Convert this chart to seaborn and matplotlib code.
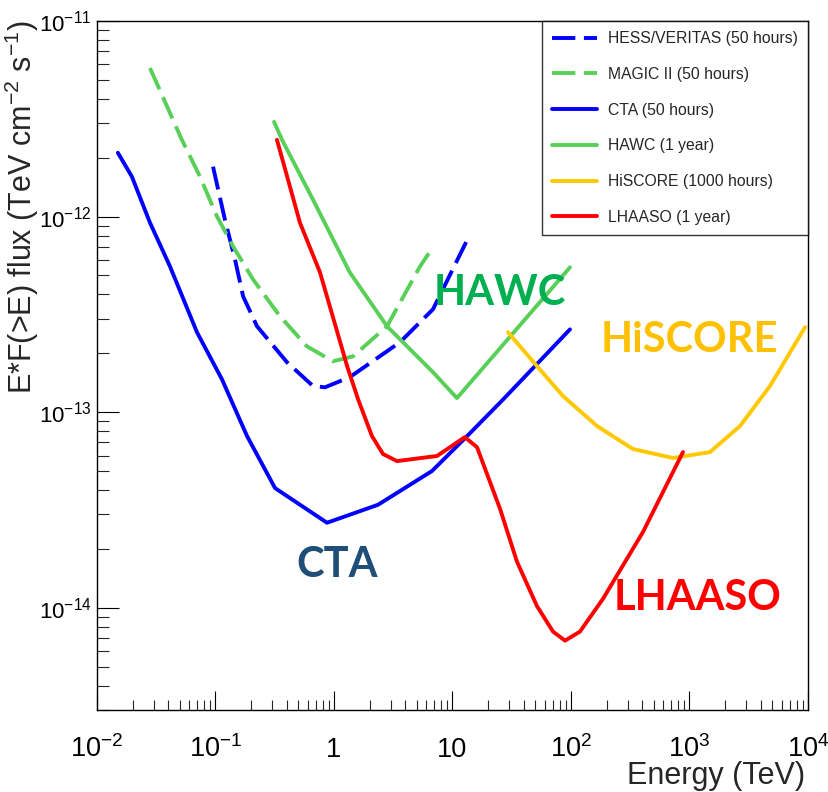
import numpy as np
import pandas as pd
import matplotlib
matplotlib.use("Agg")
import matplotlib.pyplot as plt
import seaborn as sns

# ---------------- data ----------------
cta_E = [0.0150, 0.0197, 0.028, 0.0413, 0.0698, 0.1135, 0.1845, 0.318, 0.873, 2.35, 6.71, 13.3, 26.7, 98]
cta_F = [2.12e-12, 1.60e-12, 9.3e-13, 5.56e-13, 2.56e-13, 1.47e-13, 7.55e-14, 4.09e-14, 2.72e-14,
         3.36e-14, 5.0e-14, 7.55e-14, 1.16e-13, 2.65e-13]

hess_E = [0.0953, 0.120, 0.146, 0.171, 0.224, 0.401, 0.665, 0.84, 1.36, 3.61, 6.85, 13.5]
hess_F = [1.80e-12, 9.66e-13, 6.04e-13, 3.91e-13, 2.75e-13, 1.80e-13, 1.36e-13, 1.34e-13,
          1.51e-13, 2.28e-13, 3.36e-13, 7.73e-13]

magic_E = [0.028, 0.052, 0.074, 0.103, 0.141, 0.207, 0.350, 0.591, 0.98, 1.45, 2.80, 5.32, 6.46]
magic_F = [5.75e-12, 2.47e-12, 1.60e-12, 1.0e-12, 7.03e-13, 4.78e-13, 3.09e-13, 2.17e-13,
           1.82e-13, 1.93e-13, 2.75e-13, 5.56e-13, 6.63e-13]

hawc_E = [0.312, 0.364, 0.665, 1.36, 2.80, 6.85, 10.9, 98]
hawc_F = [3.05e-12, 2.47e-12, 1.22e-12, 5.18e-13, 2.75e-13, 1.60e-13, 1.18e-13, 5.5e-13]

hiscore_E = [29.4, 51.6, 85.5, 166, 333, 726, 1489, 2668, 4780, 9440]
hiscore_F = [2.56e-13, 1.72e-13, 1.21e-13, 8.49e-14, 6.48e-14, 5.83e-14, 6.25e-14, 8.49e-14,
             1.36e-13, 2.72e-13]

lhaaso_E = [0.330, 0.516, 0.762, 1.29, 1.60, 2.09, 2.59, 3.40, 7.40, 12.7, 16.1, 25.2, 35.0,
            51.6, 70.5, 89, 119, 186, 405, 881]
lhaaso_F = [2.47e-12, 9.3e-13, 5.18e-13, 1.72e-13, 1.16e-13, 7.55e-14, 6.11e-14, 5.62e-14,
            5.97e-14, 7.45e-14, 6.62e-14, 3.20e-14, 1.72e-14, 1.02e-14, 7.55e-15, 6.79e-15,
            7.55e-15, 1.11e-14, 2.44e-14, 6.25e-14]

series_labels = ["HESS/VERITAS (50 hours)", "MAGIC II (50 hours)", "CTA (50 hours)",
                 "HAWC (1 year)", "HiSCORE (1000 hours)", "LHAASO (1 year)"]

xtick_vals = [1e-2, 1e-1, 1, 10, 1e2, 1e3, 1e4]
xtick_labels = [r"$10^{-2}$", r"$10^{-1}$", "1", "10", r"$10^{2}$", r"$10^{3}$", r"$10^{4}$"]
ytick_vals = [1e-14, 1e-13, 1e-12, 1e-11]
ytick_labels = [r"$10^{-14}$", r"$10^{-13}$", r"$10^{-12}$", r"$10^{-11}$"]

annot_labels = ["HAWC", "HiSCORE", "CTA", "LHAASO"]

# ---------------- style ----------------
sns.set_style("white")
plt.rcParams["font.family"] = ["Liberation Sans", "DejaVu Sans"]
plt.rcParams["mathtext.fontset"] = "custom"
plt.rcParams["mathtext.rm"] = "Liberation Sans"
plt.rcParams["mathtext.it"] = "Liberation Sans:italic"
plt.rcParams["mathtext.bf"] = "Liberation Sans:bold"

BLUE = "#0000FF"
GREEN = "#58D058"
YELLOW = "#FFC800"
RED = "#FF0000"

fig = plt.figure(figsize=(8.29, 7.92), dpi=100)
ax = fig.add_axes([97 / 829, 1 - 710 / 792, (808 - 97) / 829, (710 - 21) / 792])

lw = 2.8
dash = (0, (6, 2.2))

series = [
    (hess_E, hess_F, BLUE, dash, series_labels[0]),
    (magic_E, magic_F, GREEN, dash, series_labels[1]),
    (cta_E, cta_F, BLUE, "-", series_labels[2]),
    (hawc_E, hawc_F, GREEN, "-", series_labels[3]),
    (hiscore_E, hiscore_F, YELLOW, "-", series_labels[4]),
    (lhaaso_E, lhaaso_F, RED, "-", series_labels[5]),
]
for E, F, c, ls, lab in series:
    df = pd.DataFrame({"E": E, "F": F})
    sns.lineplot(data=df, x="E", y="F", ax=ax, color=c, lw=lw, linestyle=ls,
                 label=lab, sort=False, estimator=None, legend=False)

ax.set_xscale("log")
ax.set_yscale("log")
ax.set_xlim(1e-2, 1e4)
ax.set_ylim(3e-15, 1e-11)
ax.set_xlabel("")
ax.set_ylabel("")

ax.set_xticks(xtick_vals)
ax.set_xticklabels(xtick_labels, fontsize=19.5)
ax.set_yticks(ytick_vals)
ax.set_yticklabels(ytick_labels, fontsize=16)
ax.xaxis.set_minor_locator(matplotlib.ticker.LogLocator(base=10, subs=np.arange(2, 10), numticks=50))
ax.yaxis.set_minor_locator(matplotlib.ticker.LogLocator(base=10, subs=np.arange(2, 10), numticks=50))
ax.xaxis.set_minor_formatter(matplotlib.ticker.NullFormatter())
ax.yaxis.set_minor_formatter(matplotlib.ticker.NullFormatter())

ax.tick_params(axis="x", which="major", direction="in", length=14, width=0.8, pad=33.5,
               top=False, bottom=True, colors="black")
ax.tick_params(axis="x", which="minor", direction="in", length=7.5, width=0.8,
               top=False, bottom=True)
ax.tick_params(axis="y", which="major", direction="in", length=16, width=0.8, pad=4,
               left=True, right=False, colors="black")
ax.tick_params(axis="y", which="minor", direction="in", length=8.6, width=0.8,
               left=True, right=False)
for lbl in ax.get_xticklabels():
    lbl.set_verticalalignment("baseline")
for sp in ax.spines.values():
    sp.set_color("black")
    sp.set_linewidth(1.0)

# axis titles (ROOT style, right/top aligned)
fig.text(805 / 829, 1 - 776 / 792, "Energy (TeV)", ha="right", va="center", fontsize=22)
fig.text(22 / 829, 1 - 20 / 792, r"E*F(>E) flux (TeV cm$^{-2}$ s$^{-1}$)", rotation=90,
         ha="center", va="top", fontsize=22)

# legend
leg = ax.legend(loc="upper right", bbox_to_anchor=(1.0, 1.0), borderaxespad=0.0,
                fontsize=11.3, frameon=True, fancybox=False, edgecolor="black",
                handlelength=2.87, handletextpad=0.7, labelspacing=1.32, borderpad=0.65)
leg.get_frame().set_linewidth(1.0)

# big annotations
annot_colors = ["#00B050", "#FFC000", "#1F4E79", "#FF0000"]
annot_pos = [(0.567, 0.588), (0.833, 0.520), (0.338, 0.193), (0.845, 0.145)]
for txt, c, (px, py) in zip(annot_labels, annot_colors, annot_pos):
    ax.text(px, py, txt, transform=ax.transAxes, ha="center", va="baseline",
            fontsize=30, fontweight="bold", color=c, family=["Lato", "DejaVu Sans"])

fig.savefig("out.png", dpi=100)
